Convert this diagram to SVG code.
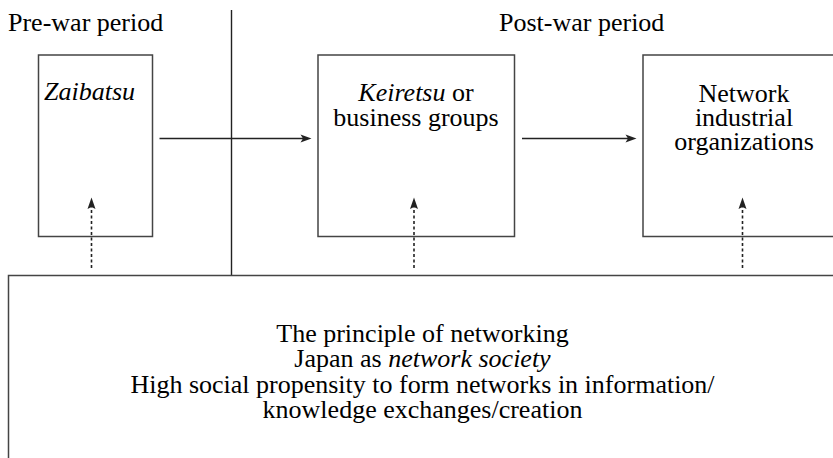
<svg xmlns="http://www.w3.org/2000/svg" width="833" height="458" viewBox="0 0 833 458">
<defs>
<style>
.box{fill:none;stroke:#444;stroke-width:1.5}
.ln{fill:none;stroke:#222;stroke-width:1.4}
.dot{fill:none;stroke:#222;stroke-width:1.6;stroke-dasharray:3 2.5}
.head{fill:#222;stroke:none}
</style>
</defs>
<text x="8" y="31" font-family="'Liberation Serif', serif" font-size="26">Pre-war period</text>
<text x="499" y="31" font-family="'Liberation Serif', serif" font-size="26">Post-war period</text>
<g id="divider"><line class="ln" x1="231.5" y1="10" x2="231.5" y2="275"/></g>
<g id="zaibatsu">
<rect class="box" x="38.5" y="55" width="114" height="181.5"/>
<text x="44" y="100" font-family="'Liberation Serif', serif" font-size="26" font-style="italic">Zaibatsu</text>
</g>
<g id="keiretsu">
<rect class="box" x="318" y="55" width="196.5" height="181.5"/>
<text x="416" y="101" text-anchor="middle" font-family="'Liberation Serif', serif" font-size="26"><tspan font-style="italic">Keiretsu</tspan> or</text>
<text x="416" y="126" text-anchor="middle" font-family="'Liberation Serif', serif" font-size="26">business groups</text>
</g>
<g id="network">
<path class="box" d="M834,55 H643 V236.5 H834"/>
<text x="744" y="101.5" text-anchor="middle" font-family="'Liberation Serif', serif" font-size="26">Network</text>
<text x="744" y="126" text-anchor="middle" font-family="'Liberation Serif', serif" font-size="26">industrial</text>
<text x="744" y="150" text-anchor="middle" font-family="'Liberation Serif', serif" font-size="26">organizations</text>
</g>
<g id="principle">
<path class="box" d="M8.5,459 V275.5 H834"/>
<text x="422.5" y="342" text-anchor="middle" font-family="'Liberation Serif', serif" font-size="26">The principle of networking</text>
<text x="422.5" y="367" text-anchor="middle" font-family="'Liberation Serif', serif" font-size="26">Japan as <tspan font-style="italic">network society</tspan></text>
<text x="422.5" y="393" text-anchor="middle" font-family="'Liberation Serif', serif" font-size="26">High social propensity to form networks in information/</text>
<text x="422.5" y="418" text-anchor="middle" font-family="'Liberation Serif', serif" font-size="26">knowledge exchanges/creation</text>
</g>
<g id="connectors">
<line class="ln" x1="159.5" y1="138.5" x2="304" y2="138.5"/>
<path class="head" d="M311.5,138.5 L300.5,134.5 L303,138.5 L300.5,142.5 Z"/>
<line class="ln" x1="522" y1="138.5" x2="629" y2="138.5"/>
<path class="head" d="M636.5,138.5 L625.5,134.5 L628,138.5 L625.5,142.5 Z"/>
<line class="dot" x1="91.5" y1="268" x2="91.5" y2="206"/>
<path class="head" d="M91.5,197.5 L95.5,209 L91.5,207 L87.5,209 Z"/>
<line class="dot" x1="414" y1="268" x2="414" y2="206"/>
<path class="head" d="M414,197.5 L418,209 L414,207 L410,209 Z"/>
<line class="dot" x1="742.5" y1="268" x2="742.5" y2="206"/>
<path class="head" d="M742.5,197.5 L746.5,209 L742.5,207 L738.5,209 Z"/>
</g>
</svg>
